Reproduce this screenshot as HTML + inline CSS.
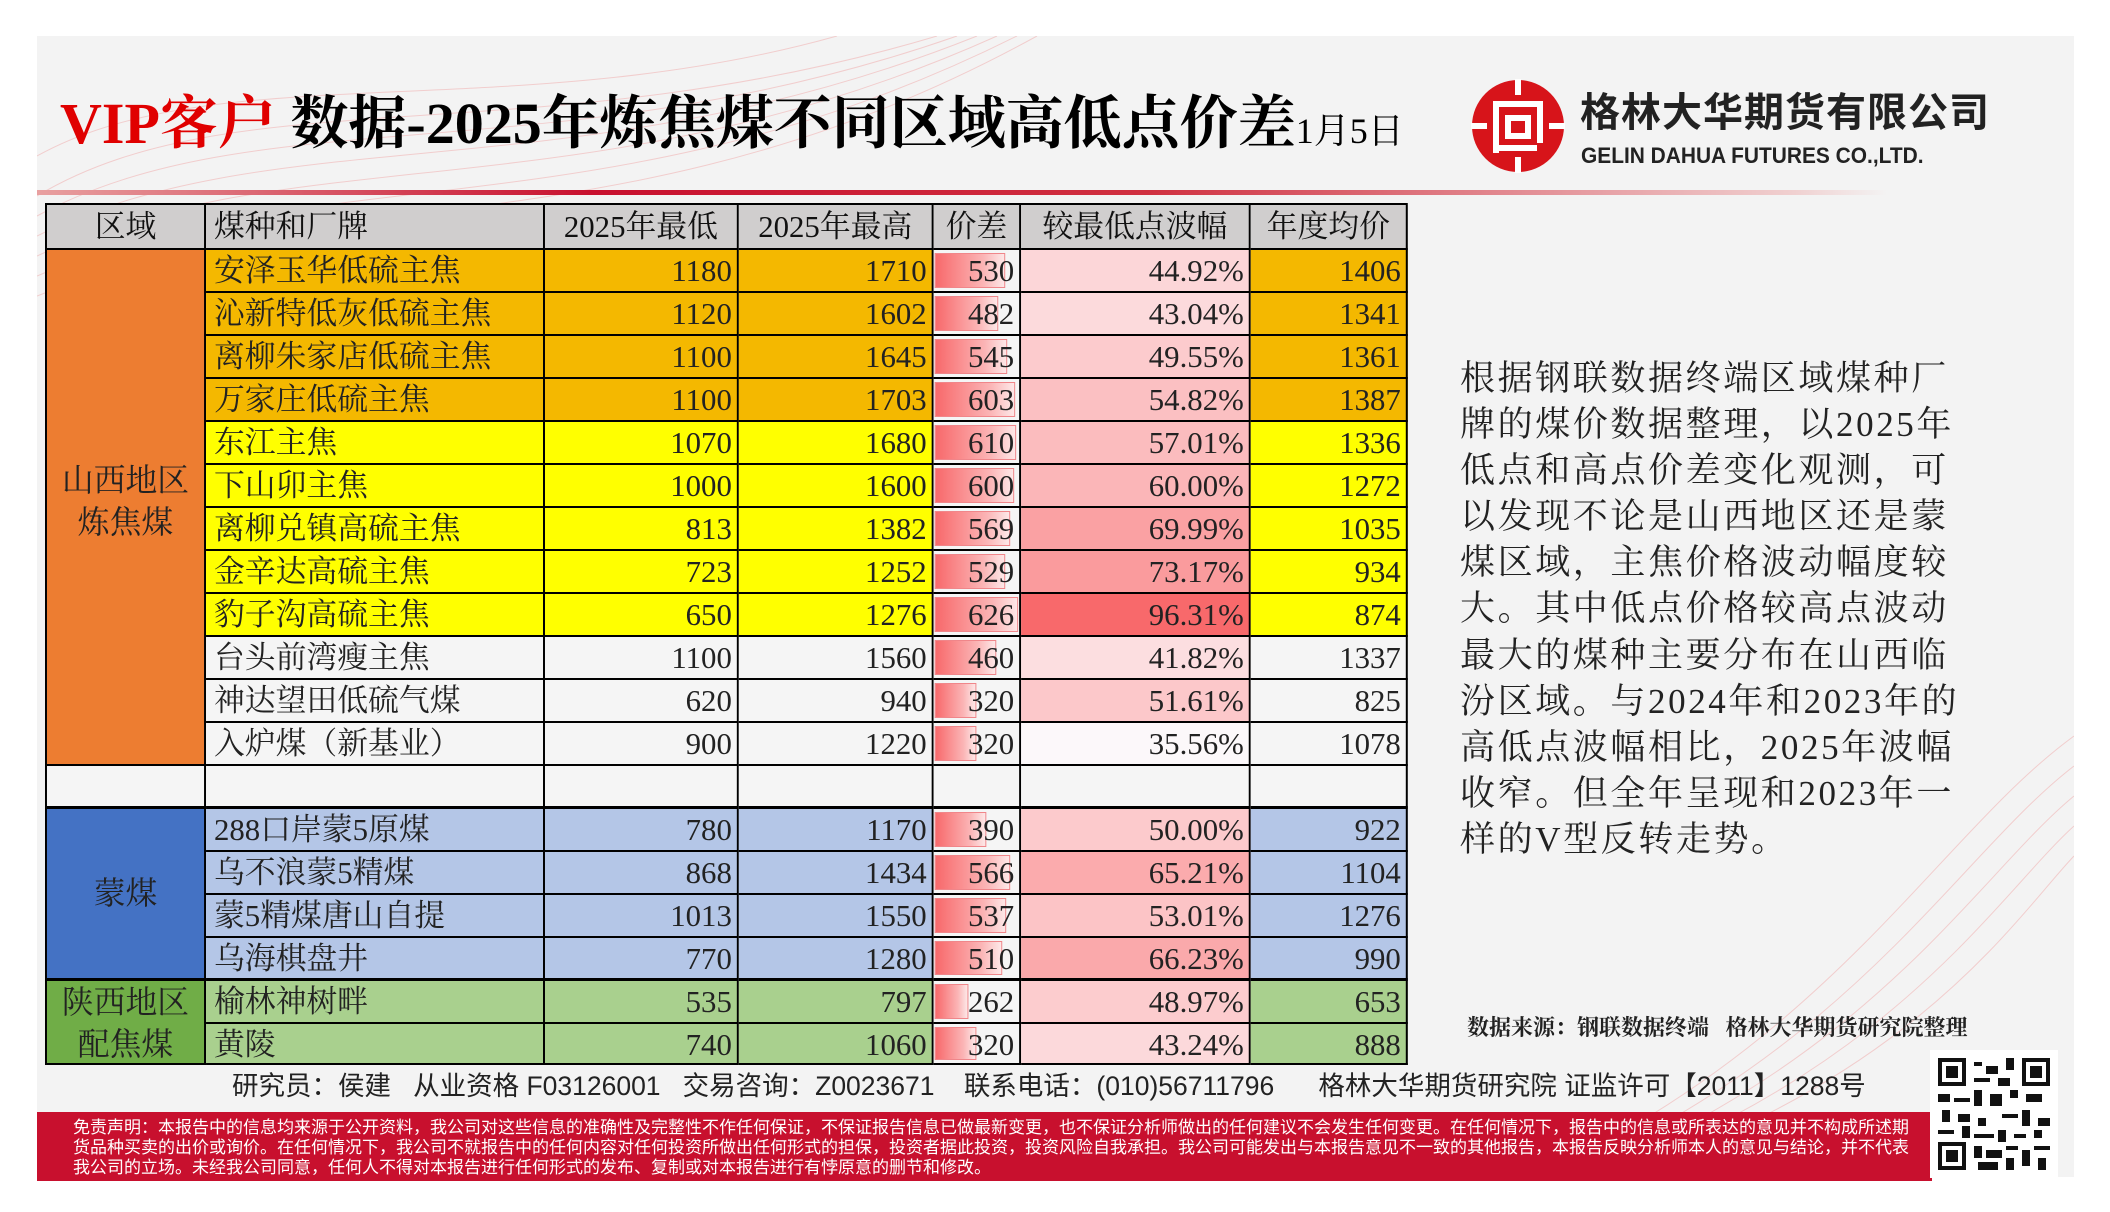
<!DOCTYPE html>
<html><head><meta charset="utf-8">
<style>
*{margin:0;padding:0;box-sizing:border-box}
body{width:2110px;height:1212px;background:#fff;position:relative;overflow:hidden;font-family:"Liberation Serif","Noto Serif CJK SC",serif}
.slide{position:absolute;left:37px;top:36px;width:2037px;height:1141px;background:#f3f3f3;overflow:hidden}
.abs{position:absolute}
.title{position:absolute;left:60px;top:88px;white-space:nowrap;font-family:"Liberation Serif","Noto Serif CJK SC",serif;font-weight:bold;font-size:58px;line-height:72px;color:#000}
.cell{position:absolute;border-right:2px solid #000;border-bottom:2px solid #000;font-size:31px;line-height:41px;color:#222;white-space:nowrap;overflow:hidden}
.r{text-align:right;padding-right:5px}
.l{padding-left:8px}
.h{background:#d0cece;text-align:center;font-size:31px;line-height:43px;color:#111}
.bar{position:absolute;left:1px;top:3px;bottom:3px;background:linear-gradient(90deg,#f8696b,#fbb5b6 70%,#fde8e8);border:1px solid #f0868a}
.side{position:absolute;left:1460px;top:356px;font-family:"Liberation Serif","Noto Serif CJK SC",serif;font-size:35px;line-height:46.1px;letter-spacing:2.6px;color:#222;white-space:nowrap}
.disc{position:absolute;left:37px;top:1112px;width:1895px;height:69px;background:#c8102e}
.disc div{position:absolute;left:36px;color:#fff;font-family:"Liberation Sans","Noto Sans CJK SC",sans-serif;font-size:17px;line-height:19px;white-space:nowrap}
.sq{transform:scaleX(0.994);transform-origin:0 0}
</style></head><body>
<div class="slide">
<svg class="abs" style="left:0;top:0" width="2037" height="1141">
<g fill="none" stroke="#e88" stroke-width="1" opacity="0.35">
<path d="M0 160 C200 40 500 120 900 0"/><path d="M0 180 C220 60 520 140 920 0"/><path d="M0 200 C240 80 540 160 940 0"/><path d="M0 220 C260 100 560 180 960 0"/><path d="M0 240 C280 120 580 200 980 0"/>
<path d="M0 260 C300 140 600 220 1000 0"/><path d="M0 120 C180 20 480 90 800 0"/>
<path d="M1500 1141 C1800 1000 1900 800 2037 700"/><path d="M1520 1141 C1820 1010 1920 820 2037 730"/><path d="M1540 1141 C1840 1020 1940 840 2037 760"/><path d="M1560 1141 C1860 1030 1960 860 2037 790"/><path d="M1580 1141 C1880 1040 1980 880 2037 820"/>
</g></svg>
<div class="abs" style="left:0;top:154px;width:1850px;height:5px;background:linear-gradient(90deg,#e8a0a0,#c8102e 30%,#d03040 60%,#f0d0d0 95%,rgba(243,243,243,0))"></div>
</div>
<div class="title"><span style="color:#e00000">VIP客户</span> 数据-2025年炼焦煤不同区域高低点价差<span style="font-size:36px;font-weight:normal">1月5日</span></div>
<svg class="abs" style="left:1471px;top:79px" width="94" height="94" viewBox="0 0 94 94">
<circle cx="47" cy="47" r="46" fill="#d7141a"/>
<g fill="#fff"><rect x="44" y="0" width="6" height="16"/><rect x="44" y="78" width="6" height="16"/><rect x="0" y="44" width="16" height="6"/><rect x="78" y="44" width="16" height="6"/>
<rect x="22" y="22" width="50" height="6"/><rect x="22" y="28" width="6" height="46"/><rect x="66" y="28" width="6" height="36"/><rect x="34" y="36" width="26" height="24"/><rect x="28" y="66" width="38" height="6"/></g>
<rect x="40" y="42" width="14" height="12" fill="#d7141a"/>
</svg>
<div class="abs" style="left:1580px;top:88px;font-family:'Liberation Sans','Noto Sans CJK SC',sans-serif;font-weight:bold;font-size:40px;line-height:50px;letter-spacing:1px;color:#222;white-space:nowrap">格林大华期货有限公司</div>
<div class="abs" style="left:1581px;top:142px;font-family:'Liberation Sans',sans-serif;font-weight:bold;font-size:22px;line-height:28px;color:#222;white-space:nowrap;transform:scaleX(0.95);transform-origin:left">GELIN DAHUA FUTURES CO.,LTD.</div>

<div id="tbl" class="abs sq" style="left:45px;top:203px;width:1371px;height:862px;border-left:2px solid #000;border-top:2px solid #000">
<div class="cell h" style="left:0;top:0;width:160px;height:45px">区域</div>
<div class="cell h" style="left:160px;top:0;width:341px;height:45px;text-align:left;padding-left:8px">煤种和厂牌</div>
<div class="cell h" style="left:501px;top:0;width:195px;height:45px">2025年最低</div>
<div class="cell h" style="left:696px;top:0;width:196px;height:45px">2025年最高</div>
<div class="cell h" style="left:892px;top:0;width:88px;height:45px">价差</div>
<div class="cell h" style="left:980px;top:0;width:231px;height:45px">较最低点波幅</div>
<div class="cell h" style="left:1211px;top:0;width:158px;height:45px">年度均价</div>
<div class="cell" style="left:0;top:45px;width:160px;height:516px;background:#ed7d31;text-align:center;font-size:32px;line-height:42px;padding-top:209px">山西地区<br>炼焦煤</div>
<div class="cell" style="left:0;top:561px;width:160px;height:43px;background:#f5f5f5;border-bottom:3px solid #000"></div>
<div class="cell" style="left:0;top:604px;width:160px;height:172px;background:#4472c4;text-align:center;font-size:32px;padding-top:64px;border-bottom:3px solid #000">蒙煤</div>
<div class="cell" style="left:0;top:776px;width:160px;height:84px;background:#70ad47;text-align:center;font-size:32px;line-height:42px">陕西地区<br>配焦煤</div>
</div>

<div class="side">根据钢联数据终端区域煤种厂<br>牌的煤价数据整理，以2025年<br>低点和高点价差变化观测，可<br>以发现不论是山西地区还是蒙<br>煤区域，主焦价格波动幅度较<br>大。其中低点价格较高点波动<br>最大的煤种主要分布在山西临<br>汾区域。与2024年和2023年的<br>高低点波幅相比，2025年波幅<br>收窄。但全年呈现和2023年一<br>样的V型反转走势。</div>
<div class="abs" style="left:1467px;top:1014px;font-family:'Liberation Serif','Noto Serif CJK SC',serif;font-weight:bold;font-size:22px;line-height:28px;color:#222;white-space:nowrap">数据来源：钢联数据终端&nbsp;&nbsp;&nbsp;格林大华期货研究院整理</div>
<div class="abs" style="left:232px;top:1071px;font-family:'Liberation Sans','Noto Sans CJK SC',sans-serif;font-size:26.5px;line-height:30px;color:#222;white-space:nowrap">研究员：侯建&nbsp;&nbsp;&nbsp;从业资格 F03126001&nbsp;&nbsp;&nbsp;交易咨询：Z0023671&nbsp;&nbsp;&nbsp;&nbsp;联系电话：(010)56711796&nbsp;&nbsp;&nbsp;&nbsp;&nbsp;&nbsp;格林大华期货研究院 证监许可【2011】1288号</div>
<div class="disc">
<div style="top:6px">免责声明：本报告中的信息均来源于公开资料，我公司对这些信息的准确性及完整性不作任何保证，不保证报告信息已做最新变更，也不保证分析师做出的任何建议不会发生任何变更。在任何情况下，报告中的信息或所表达的意见并不构成所述期</div>
<div style="top:26px">货品种买卖的出价或询价。在任何情况下，我公司不就报告中的任何内容对任何投资所做出任何形式的担保，投资者据此投资，投资风险自我承担。我公司可能发出与本报告意见不一致的其他报告，本报告反映分析师本人的意见与结论，并不代表</div>
<div style="top:46px">我公司的立场。未经我公司同意，任何人不得对本报告进行任何形式的发布、复制或对本报告进行有悖原意的删节和修改。</div>
</div>
<div class="abs" style="left:1930px;top:1050px;width:128px;height:128px;background:#fff"></div>
<svg class="abs" style="left:1938px;top:1058px" width="112" height="112" viewBox="0 0 28 28" shape-rendering="crispEdges">
<g fill="#111"><rect x="0" y="0" width="7" height="7"/><rect x="21" y="0" width="7" height="7"/><rect x="0" y="21" width="7" height="7"/></g>
<g fill="#fff"><rect x="1" y="1" width="5" height="5"/><rect x="22" y="1" width="5" height="5"/><rect x="1" y="22" width="5" height="5"/></g>
<g fill="#111"><rect x="2" y="2" width="3" height="3"/><rect x="23" y="2" width="3" height="3"/><rect x="2" y="23" width="3" height="3"/>
<rect x="9" y="1" width="2" height="1"/><rect x="12" y="2" width="3" height="2"/><rect x="17" y="0" width="2" height="3"/><rect x="9" y="5" width="4" height="1"/><rect x="15" y="5" width="3" height="2"/>
<rect x="0" y="9" width="3" height="2"/><rect x="4" y="10" width="4" height="1"/><rect x="9" y="8" width="2" height="4"/><rect x="13" y="9" width="3" height="3"/><rect x="18" y="8" width="2" height="2"/><rect x="22" y="9" width="4" height="2"/>
<rect x="1" y="13" width="2" height="3"/><rect x="5" y="14" width="3" height="2"/><rect x="10" y="15" width="2" height="2"/><rect x="16" y="14" width="4" height="1"/><rect x="21" y="13" width="2" height="4"/><rect x="25" y="15" width="3" height="2"/>
<rect x="0" y="18" width="4" height="1"/><rect x="6" y="17" width="2" height="3"/><rect x="9" y="19" width="5" height="1"/><rect x="15" y="18" width="2" height="3"/><rect x="19" y="19" width="3" height="1"/><rect x="24" y="18" width="2" height="2"/>
<rect x="9" y="22" width="2" height="3"/><rect x="12" y="23" width="4" height="2"/><rect x="17" y="22" width="3" height="1"/><rect x="21" y="23" width="2" height="4"/><rect x="24" y="22" width="4" height="1"/><rect x="25" y="25" width="2" height="3"/><rect x="10" y="26" width="5" height="2"/><rect x="17" y="25" width="2" height="3"/>
</g></svg>

<div class="sq" style="position:absolute;left:47px;top:205px">
<div class="cell l" style="left:160px;top:45px;width:341px;height:43px;background:#f4b800">安泽玉华低硫主焦</div><div class="cell r" style="left:501px;top:45px;width:195px;height:43px;background:#f4b800">1180</div><div class="cell r" style="left:696px;top:45px;width:196px;height:43px;background:#f4b800">1710</div><div class="cell r" style="left:892px;top:45px;width:88px;height:43px;background:#f5f5f5"><div class="bar" style="width:71px"></div><span style="position:relative">530</span></div><div class="cell r" style="left:980px;top:45px;width:231px;height:43px;background:rgb(252,214,216)">44.92%</div><div class="cell r" style="left:1211px;top:45px;width:158px;height:43px;background:#f4b800">1406</div>

<div class="cell l" style="left:160px;top:88px;width:341px;height:43px;background:#f4b800">沁新特低灰低硫主焦</div><div class="cell r" style="left:501px;top:88px;width:195px;height:43px;background:#f4b800">1120</div><div class="cell r" style="left:696px;top:88px;width:196px;height:43px;background:#f4b800">1602</div><div class="cell r" style="left:892px;top:88px;width:88px;height:43px;background:#f5f5f5"><div class="bar" style="width:64px"></div><span style="position:relative">482</span></div><div class="cell r" style="left:980px;top:88px;width:231px;height:43px;background:rgb(252,218,220)">43.04%</div><div class="cell r" style="left:1211px;top:88px;width:158px;height:43px;background:#f4b800">1341</div>

<div class="cell l" style="left:160px;top:131px;width:341px;height:43px;background:#f4b800">离柳朱家店低硫主焦</div><div class="cell r" style="left:501px;top:131px;width:195px;height:43px;background:#f4b800">1100</div><div class="cell r" style="left:696px;top:131px;width:196px;height:43px;background:#f4b800">1645</div><div class="cell r" style="left:892px;top:131px;width:88px;height:43px;background:#f5f5f5"><div class="bar" style="width:73px"></div><span style="position:relative">545</span></div><div class="cell r" style="left:980px;top:131px;width:231px;height:43px;background:rgb(252,203,205)">49.55%</div><div class="cell r" style="left:1211px;top:131px;width:158px;height:43px;background:#f4b800">1361</div>

<div class="cell l" style="left:160px;top:174px;width:341px;height:43px;background:#f4b800">万家庄低硫主焦</div><div class="cell r" style="left:501px;top:174px;width:195px;height:43px;background:#f4b800">1100</div><div class="cell r" style="left:696px;top:174px;width:196px;height:43px;background:#f4b800">1703</div><div class="cell r" style="left:892px;top:174px;width:88px;height:43px;background:#f5f5f5"><div class="bar" style="width:81px"></div><span style="position:relative">603</span></div><div class="cell r" style="left:980px;top:174px;width:231px;height:43px;background:rgb(251,192,194)">54.82%</div><div class="cell r" style="left:1211px;top:174px;width:158px;height:43px;background:#f4b800">1387</div>

<div class="cell l" style="left:160px;top:217px;width:341px;height:43px;background:#ffff00">东江主焦</div><div class="cell r" style="left:501px;top:217px;width:195px;height:43px;background:#ffff00">1070</div><div class="cell r" style="left:696px;top:217px;width:196px;height:43px;background:#ffff00">1680</div><div class="cell r" style="left:892px;top:217px;width:88px;height:43px;background:#f5f5f5"><div class="bar" style="width:82px"></div><span style="position:relative">610</span></div><div class="cell r" style="left:980px;top:217px;width:231px;height:43px;background:rgb(251,188,190)">57.01%</div><div class="cell r" style="left:1211px;top:217px;width:158px;height:43px;background:#ffff00">1336</div>

<div class="cell l" style="left:160px;top:260px;width:341px;height:43px;background:#ffff00">下山卯主焦</div><div class="cell r" style="left:501px;top:260px;width:195px;height:43px;background:#ffff00">1000</div><div class="cell r" style="left:696px;top:260px;width:196px;height:43px;background:#ffff00">1600</div><div class="cell r" style="left:892px;top:260px;width:88px;height:43px;background:#f5f5f5"><div class="bar" style="width:80px"></div><span style="position:relative">600</span></div><div class="cell r" style="left:980px;top:260px;width:231px;height:43px;background:rgb(251,182,184)">60.00%</div><div class="cell r" style="left:1211px;top:260px;width:158px;height:43px;background:#ffff00">1272</div>

<div class="cell l" style="left:160px;top:303px;width:341px;height:43px;background:#ffff00">离柳兑镇高硫主焦</div><div class="cell r" style="left:501px;top:303px;width:195px;height:43px;background:#ffff00">813</div><div class="cell r" style="left:696px;top:303px;width:196px;height:43px;background:#ffff00">1382</div><div class="cell r" style="left:892px;top:303px;width:88px;height:43px;background:#f5f5f5"><div class="bar" style="width:76px"></div><span style="position:relative">569</span></div><div class="cell r" style="left:980px;top:303px;width:231px;height:43px;background:rgb(250,161,163)">69.99%</div><div class="cell r" style="left:1211px;top:303px;width:158px;height:43px;background:#ffff00">1035</div>

<div class="cell l" style="left:160px;top:346px;width:341px;height:43px;background:#ffff00">金辛达高硫主焦</div><div class="cell r" style="left:501px;top:346px;width:195px;height:43px;background:#ffff00">723</div><div class="cell r" style="left:696px;top:346px;width:196px;height:43px;background:#ffff00">1252</div><div class="cell r" style="left:892px;top:346px;width:88px;height:43px;background:#f5f5f5"><div class="bar" style="width:71px"></div><span style="position:relative">529</span></div><div class="cell r" style="left:980px;top:346px;width:231px;height:43px;background:rgb(250,155,157)">73.17%</div><div class="cell r" style="left:1211px;top:346px;width:158px;height:43px;background:#ffff00">934</div>

<div class="cell l" style="left:160px;top:389px;width:341px;height:43px;background:#ffff00">豹子沟高硫主焦</div><div class="cell r" style="left:501px;top:389px;width:195px;height:43px;background:#ffff00">650</div><div class="cell r" style="left:696px;top:389px;width:196px;height:43px;background:#ffff00">1276</div><div class="cell r" style="left:892px;top:389px;width:88px;height:43px;background:#f5f5f5"><div class="bar" style="width:84px"></div><span style="position:relative">626</span></div><div class="cell r" style="left:980px;top:389px;width:231px;height:43px;background:rgb(248,105,107)">96.31%</div><div class="cell r" style="left:1211px;top:389px;width:158px;height:43px;background:#ffff00">874</div>

<div class="cell l" style="left:160px;top:432px;width:341px;height:43px;background:#f5f5f5">台头前湾瘦主焦</div><div class="cell r" style="left:501px;top:432px;width:195px;height:43px;background:#f5f5f5">1100</div><div class="cell r" style="left:696px;top:432px;width:196px;height:43px;background:#f5f5f5">1560</div><div class="cell r" style="left:892px;top:432px;width:88px;height:43px;background:#f5f5f5"><div class="bar" style="width:62px"></div><span style="position:relative">460</span></div><div class="cell r" style="left:980px;top:432px;width:231px;height:43px;background:rgb(252,222,224)">41.82%</div><div class="cell r" style="left:1211px;top:432px;width:158px;height:43px;background:#f5f5f5">1337</div>

<div class="cell l" style="left:160px;top:475px;width:341px;height:43px;background:#f5f5f5">神达望田低硫气煤</div><div class="cell r" style="left:501px;top:475px;width:195px;height:43px;background:#f5f5f5">620</div><div class="cell r" style="left:696px;top:475px;width:196px;height:43px;background:#f5f5f5">940</div><div class="cell r" style="left:892px;top:475px;width:88px;height:43px;background:#f5f5f5"><div class="bar" style="width:42px"></div><span style="position:relative">320</span></div><div class="cell r" style="left:980px;top:475px;width:231px;height:43px;background:rgb(252,200,202)">51.61%</div><div class="cell r" style="left:1211px;top:475px;width:158px;height:43px;background:#f5f5f5">825</div>

<div class="cell l" style="left:160px;top:518px;width:341px;height:43px;background:#f5f5f5">入炉煤（新基业）</div><div class="cell r" style="left:501px;top:518px;width:195px;height:43px;background:#f5f5f5">900</div><div class="cell r" style="left:696px;top:518px;width:196px;height:43px;background:#f5f5f5">1220</div><div class="cell r" style="left:892px;top:518px;width:88px;height:43px;background:#f5f5f5"><div class="bar" style="width:42px"></div><span style="position:relative">320</span></div><div class="cell r" style="left:980px;top:518px;width:231px;height:43px;background:rgb(252,248,250)">35.56%</div><div class="cell r" style="left:1211px;top:518px;width:158px;height:43px;background:#f5f5f5">1078</div>

<div class="cell" style="left:160px;top:561px;width:341px;height:43px;background:#f5f5f5;border-bottom:3px solid #000"></div><div class="cell" style="left:501px;top:561px;width:195px;height:43px;background:#f5f5f5;border-bottom:3px solid #000"></div><div class="cell" style="left:696px;top:561px;width:196px;height:43px;background:#f5f5f5;border-bottom:3px solid #000"></div><div class="cell" style="left:892px;top:561px;width:88px;height:43px;background:#f5f5f5;border-bottom:3px solid #000"></div><div class="cell" style="left:980px;top:561px;width:231px;height:43px;background:#f5f5f5;border-bottom:3px solid #000"></div><div class="cell" style="left:1211px;top:561px;width:158px;height:43px;background:#f5f5f5;border-bottom:3px solid #000"></div>

<div class="cell l" style="left:160px;top:604px;width:341px;height:43px;background:#b4c6e7">288口岸蒙5原煤</div><div class="cell r" style="left:501px;top:604px;width:195px;height:43px;background:#b4c6e7">780</div><div class="cell r" style="left:696px;top:604px;width:196px;height:43px;background:#b4c6e7">1170</div><div class="cell r" style="left:892px;top:604px;width:88px;height:43px;background:#f5f5f5"><div class="bar" style="width:52px"></div><span style="position:relative">390</span></div><div class="cell r" style="left:980px;top:604px;width:231px;height:43px;background:rgb(252,202,204)">50.00%</div><div class="cell r" style="left:1211px;top:604px;width:158px;height:43px;background:#b4c6e7">922</div>

<div class="cell l" style="left:160px;top:647px;width:341px;height:43px;background:#b4c6e7">乌不浪蒙5精煤</div><div class="cell r" style="left:501px;top:647px;width:195px;height:43px;background:#b4c6e7">868</div><div class="cell r" style="left:696px;top:647px;width:196px;height:43px;background:#b4c6e7">1434</div><div class="cell r" style="left:892px;top:647px;width:88px;height:43px;background:#f5f5f5"><div class="bar" style="width:76px"></div><span style="position:relative">566</span></div><div class="cell r" style="left:980px;top:647px;width:231px;height:43px;background:rgb(251,171,173)">65.21%</div><div class="cell r" style="left:1211px;top:647px;width:158px;height:43px;background:#b4c6e7">1104</div>

<div class="cell l" style="left:160px;top:690px;width:341px;height:43px;background:#b4c6e7">蒙5精煤唐山自提</div><div class="cell r" style="left:501px;top:690px;width:195px;height:43px;background:#b4c6e7">1013</div><div class="cell r" style="left:696px;top:690px;width:196px;height:43px;background:#b4c6e7">1550</div><div class="cell r" style="left:892px;top:690px;width:88px;height:43px;background:#f5f5f5"><div class="bar" style="width:72px"></div><span style="position:relative">537</span></div><div class="cell r" style="left:980px;top:690px;width:231px;height:43px;background:rgb(252,196,198)">53.01%</div><div class="cell r" style="left:1211px;top:690px;width:158px;height:43px;background:#b4c6e7">1276</div>

<div class="cell l" style="left:160px;top:733px;width:341px;height:43px;background:#b4c6e7;border-bottom:3px solid #000">乌海棋盘井</div><div class="cell r" style="left:501px;top:733px;width:195px;height:43px;background:#b4c6e7;border-bottom:3px solid #000">770</div><div class="cell r" style="left:696px;top:733px;width:196px;height:43px;background:#b4c6e7;border-bottom:3px solid #000">1280</div><div class="cell r" style="left:892px;top:733px;width:88px;height:43px;background:#f5f5f5;border-bottom:3px solid #000"><div class="bar" style="width:68px"></div><span style="position:relative">510</span></div><div class="cell r" style="left:980px;top:733px;width:231px;height:43px;background:rgb(250,169,171);border-bottom:3px solid #000">66.23%</div><div class="cell r" style="left:1211px;top:733px;width:158px;height:43px;background:#b4c6e7;border-bottom:3px solid #000">990</div>

<div class="cell l" style="left:160px;top:776px;width:341px;height:43px;background:#a9d08e">榆林神树畔</div><div class="cell r" style="left:501px;top:776px;width:195px;height:43px;background:#a9d08e">535</div><div class="cell r" style="left:696px;top:776px;width:196px;height:43px;background:#a9d08e">797</div><div class="cell r" style="left:892px;top:776px;width:88px;height:43px;background:#f5f5f5"><div class="bar" style="width:34px"></div><span style="position:relative">262</span></div><div class="cell r" style="left:980px;top:776px;width:231px;height:43px;background:rgb(252,204,206)">48.97%</div><div class="cell r" style="left:1211px;top:776px;width:158px;height:43px;background:#a9d08e">653</div>

<div class="cell l" style="left:160px;top:819px;width:341px;height:41px;background:#a9d08e">黄陵</div><div class="cell r" style="left:501px;top:819px;width:195px;height:41px;background:#a9d08e">740</div><div class="cell r" style="left:696px;top:819px;width:196px;height:41px;background:#a9d08e">1060</div><div class="cell r" style="left:892px;top:819px;width:88px;height:41px;background:#f5f5f5"><div class="bar" style="width:42px"></div><span style="position:relative">320</span></div><div class="cell r" style="left:980px;top:819px;width:231px;height:41px;background:rgb(252,217,219)">43.24%</div><div class="cell r" style="left:1211px;top:819px;width:158px;height:41px;background:#a9d08e">888</div>
</div>
</body></html>
